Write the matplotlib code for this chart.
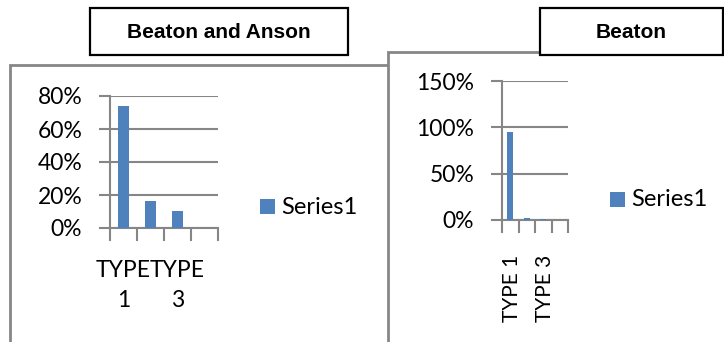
import matplotlib
matplotlib.use("Agg")
import matplotlib.pyplot as plt
from matplotlib.patches import Rectangle

# category data for the two charts
categories = ["TYPE 1", "TYPE 2", "TYPE 3", "TYPE 4"]
anson_values = [0.74, 0.164, 0.103, 0.0]
beaton_values = [0.95, 0.02, 0.01, 0.0]
anson_ticks = [0, 0.2, 0.4, 0.6, 0.8]
beaton_ticks = [0, 0.5, 1.0, 1.5]
series_name = "Series1"

W, H = 724, 342
BLUE = "#4f81bd"
GREY = "#868686"
FONT = "Lato"

fig = plt.figure(figsize=(W / 100, H / 100), dpi=100)

# background layer in pixel coords for the chart frames and title boxes
bg = fig.add_axes([0, 0, 1, 1])
bg.set_xlim(0, W)
bg.set_ylim(H, 0)
bg.axis("off")

def box(x0, y0, x1, y1, ec, z, lw=2):
    bg.add_patch(Rectangle((x0, y0), x1 - x0, y1 - y0, facecolor="white",
                           edgecolor=ec, lw=lw, zorder=z))

box(10, 65, 400, 360, GREY, 1)
box(388, 52, 740, 360, GREY, 2)
box(90, 8, 348, 55, "black", 3, lw=1.6)
box(540, 8, 723, 55, "black", 3, lw=1.6)
bg.text(219, 32, "Beaton and Anson", ha="center", va="center",
        fontsize=15, fontweight="bold", family="Liberation Sans", zorder=4)
bg.text(631, 32, "Beaton", ha="center", va="center",
        fontsize=15, fontweight="bold", family="Liberation Sans", zorder=4)


def px_axes(x0, y0, x1, y1):
    return fig.add_axes([x0 / W, (H - y1) / H, (x1 - x0) / W, (y1 - y0) / H])


def bar_chart(ax, values, ticks, width, rotate):
    x = range(1, len(values) + 1)
    ax.bar(x, values, width=width, color=BLUE, zorder=3)
    ax.set_facecolor("none")
    ax.set_xlim(0.5, len(values) + 0.5)
    ax.set_ylim(0, ticks[-1])
    ax.set_yticks(ticks)
    ax.set_yticklabels(["%d%%" % round(t * 100) for t in ticks],
                       family=FONT, fontsize=16.5)
    ax.set_xticks([i + 0.5 for i in range(len(values) + 1)])
    ax.set_xticklabels([])
    ax.tick_params(axis="x", length=9, width=1.5, color=GREY, direction="out")
    ax.tick_params(axis="y", length=8, width=1.5, color=GREY, direction="out", pad=12)
    ax.yaxis.grid(True, color=GREY, lw=1.5, zorder=1)
    ax.set_axisbelow(True)
    for s in ["top", "right"]:
        ax.spines[s].set_visible(False)
    for s in ["left", "bottom"]:
        ax.spines[s].set_color(GREY)
        ax.spines[s].set_linewidth(1.5)
    # every other category gets a label
    for i in range(0, len(categories), 2):
        if rotate:
            ax.annotate(categories[i], xy=(i + 1, 0), xycoords=("data", "axes fraction"),
                        xytext=(1, -25), textcoords="offset points",
                        ha="center", va="top", rotation=90,
                        family=FONT, fontsize=15)
        else:
            ax.annotate(categories[i].replace(" ", "\n"), xy=(i + 1, 0),
                        xycoords=("data", "axes fraction"),
                        xytext=(0, -23), textcoords="offset points",
                        ha="center", va="top", linespacing=1.55,
                        family=FONT, fontsize=16.5)


ax1 = px_axes(110, 96, 218, 228)
bar_chart(ax1, anson_values, anson_ticks, 0.41, False)
ax2 = px_axes(502, 81, 568, 220)
bar_chart(ax2, beaton_values, beaton_ticks, 0.36, True)

# legends
for lx, ly in [(260, 199), (610, 192)]:
    bg.add_patch(Rectangle((lx, ly), 15, 15, facecolor=BLUE, edgecolor="none", zorder=5))
    bg.text(lx + 21, ly + 8, series_name, ha="left", va="center",
            family=FONT, fontsize=17, zorder=5)

fig.savefig("out.png", dpi=100)
